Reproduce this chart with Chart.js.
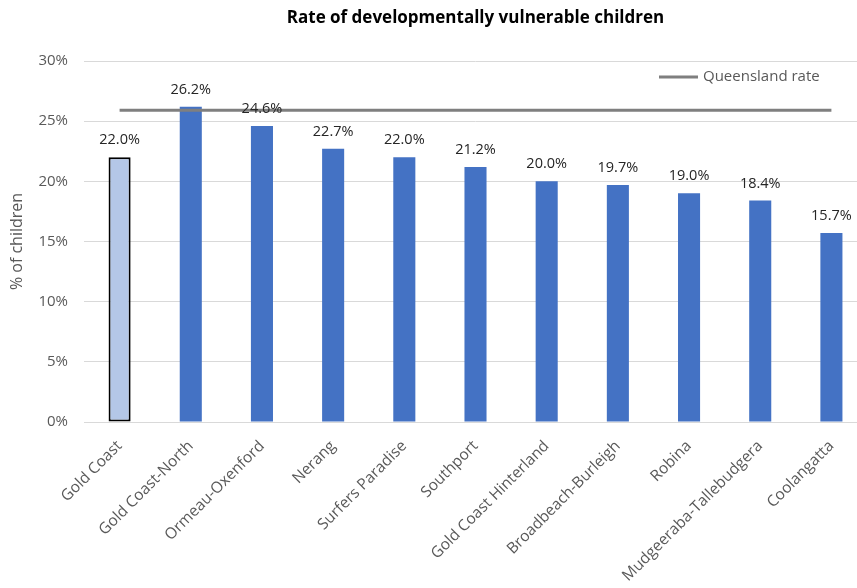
<!DOCTYPE html>
<html>
<head>
<meta charset="utf-8">
<script src="https://cdn.jsdelivr.net/npm/chart.js@4/dist/chart.umd.min.js"></script>
<style>
	html, body { margin: 0; padding: 0; background: #fff; overflow: hidden; }
	#wrap { width: 870px; height: 588px; position: relative; }
</style>
</head>
<body>
<div id="wrap"><canvas id="rateChart"></canvas></div>
<script>
var categories = ['Gold Coast', 'Gold Coast-North', 'Ormeau-Oxenford', 'Nerang', 'Surfers Paradise', 'Southport', 'Gold Coast Hinterland', 'Broadbeach-Burleigh', 'Robina', 'Mudgeeraba-Tallebudgera', 'Coolangatta'];
var rates = [22.0, 26.2, 24.6, 22.7, 22.0, 21.2, 20.0, 19.7, 19.0, 18.4, 15.7];
var queenslandRate = 25.9;
var yTicks = [0, 5, 10, 15, 20, 25, 30];

var fontFamily = '"Open Sans", "Noto Sans", sans-serif';
var grey = '#595959';

var barColors = rates.map(function(v, i) { return i === 0 ? '#b4c7e7' : '#4472c4'; });
var barBorders = rates.map(function(v, i) { return i === 0 ? '#000000' : '#4472c4'; });
var barBorderWidths = rates.map(function(v, i) { return i === 0 ? 2 : 0; });

// title, legend and value labels
var extrasPlugin = {
	id: 'extras',
	afterDatasetsDraw: function(chart) {
		var ctx = chart.ctx;
		var area = chart.chartArea;
		ctx.save();

		// title
		ctx.font = 'bold 17px ' + fontFamily;
		ctx.fillStyle = '#000';
		ctx.textAlign = 'center';
		ctx.textBaseline = 'middle';
		ctx.fillText('Rate of developmentally vulnerable children', (area.left + area.right) / 2, 18);

		// legend
		ctx.strokeStyle = '#7f7f7f';
		ctx.lineWidth = 3;
		ctx.beginPath();
		ctx.moveTo(659, 77);
		ctx.lineTo(698, 77);
		ctx.stroke();
		ctx.font = '15px ' + fontFamily;
		ctx.fillStyle = grey;
		ctx.textAlign = 'left';
		ctx.fillText('Queensland rate', 703, 77);

		// value labels (dataset 1 = bars)
		var meta = chart.getDatasetMeta(1);
		ctx.font = '14.5px ' + fontFamily;
		ctx.fillStyle = '#262626';
		ctx.textAlign = 'center';
		meta.data.forEach(function(bar, i) {
			ctx.fillText(rates[i].toFixed(1) + '%', bar.x, bar.y - 17);
		});
		ctx.restore();
	}
};

var ctx = document.getElementById('rateChart');
var rateChart = new Chart(ctx, {
	type: 'bar',
	data: {
		labels: categories,
		datasets: [{
			type: 'line',
			label: 'Queensland rate',
			data: categories.map(function() { return queenslandRate; }),
			borderColor: '#7f7f7f',
			borderWidth: 3,
			pointRadius: 0,
			fill: false,
			order: 0
		}, {
			label: 'Rate',
			data: rates,
			backgroundColor: barColors,
			borderColor: barBorders,
			borderWidth: barBorderWidths,
			borderSkipped: false,
			categoryPercentage: 1,
			barPercentage: 0.31,
			order: 1
		}]
	},
	options: {
		responsive: true,
		maintainAspectRatio: false,
		animation: false,
		layout: { padding: { top: 61, right: 3, left: 0, bottom: 0 } },
		plugins: {
			legend: { display: false },
			title: { display: false },
			tooltip: { enabled: false }
		},
		scales: {
			x: {
				grid: { display: false, drawTicks: false },
				border: { color: '#d9d9d9' },
				ticks: {
					color: grey,
					font: { family: fontFamily, size: 15.5 },
					maxRotation: 45,
					minRotation: 45,
					padding: 15,
					autoSkip: false
				},
				afterFit: function(scale) { scale.height = 166; }
			},
			y: {
				min: 0,
				max: 30,
				afterBuildTicks: function(scale) {
					scale.ticks = yTicks.map(function(v) { return { value: v }; });
				},
				grid: { color: '#d9d9d9', drawTicks: false },
				border: { display: false },
				ticks: {
					color: grey,
					font: { family: fontFamily, size: 15 },
					padding: 16,
					callback: function(v) { return v + '%'; }
				},
				title: {
					display: true,
					text: '% of children',
					color: grey,
					font: { family: fontFamily, size: 16 },
					padding: { top: 8, bottom: 0 }
				},
				afterFit: function(scale) { scale.width = 84; }
			}
		}
	},
	plugins: [extrasPlugin]
});
</script>
</body>
</html>
